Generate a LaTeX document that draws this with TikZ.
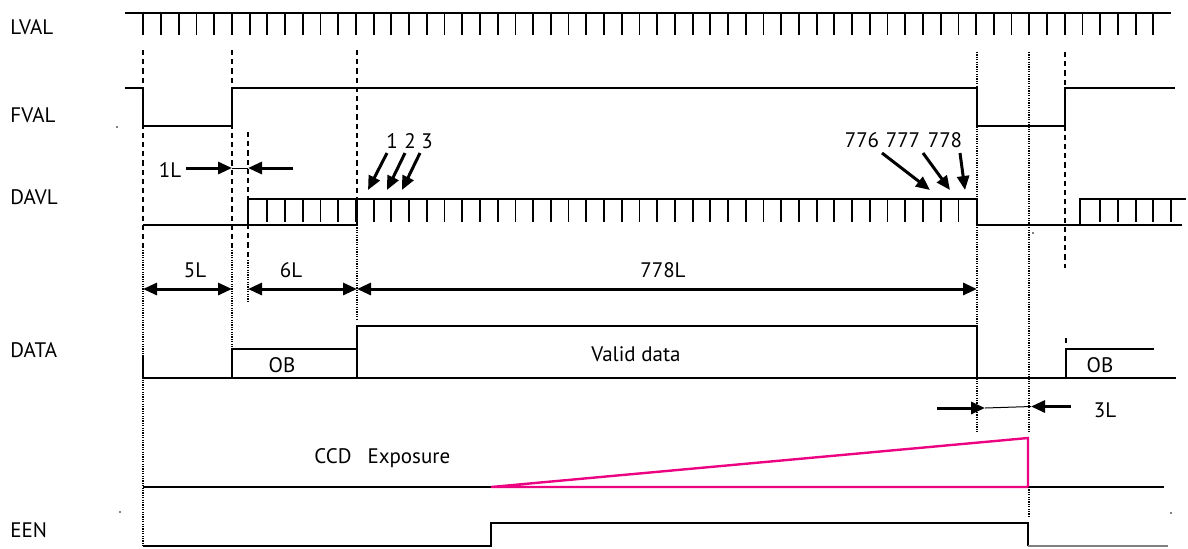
\documentclass[tikz,border=0pt]{standalone}
\usepackage{fontspec}
\setmainfont{PT Sans}
\usetikzlibrary{arrows.meta}

\begin{document}
\begin{tikzpicture}[x=0.5pt,y=-0.5pt,
  every node/.style={font=\fontsize{10.5}{12}\selectfont,inner sep=0pt},
  sig/.style={line width=0.9pt},
  guide/.style={line width=0.6pt,dash pattern=on 0.6pt off 0.6pt},
  cut/.style={line width=1.3pt,dash pattern=on 2.6pt off 2pt},
  dim/.style={line width=1.5pt,{Triangle[length=7pt,width=6pt]}-{Triangle[length=7pt,width=6pt]}},
  ptr/.style={line width=1.5pt,-{Triangle[length=7pt,width=6pt]}},
  expo/.style={line width=1.2pt,draw=magenta!90!red}]
 \useasboundingbox (0,0) rectangle (1188,548);
 % signal names
 \node[anchor=west] (lval) at (10,27) {LVAL};
 \node[anchor=west] (fval) at (10,115) {FVAL};
 \node[anchor=west] (davl) at (10,197) {DAVL};
 \node[anchor=west] (data) at (10,350) {DATA};
 \node[anchor=west] (een) at (10,530) {EEN};
 % LVAL
 \draw[sig] (125,13) -- (1171,13);
 \foreach \i in {0,...,57}
   \draw[sig] ({143.3+17.72*\i},13) -- ++(0,22);
 % FVAL
 \draw[sig] (125,88) -- (143,88) -- (143,126) -- (232,126) -- (232,88) -- (977,88)
   -- (977,126) -- (1065,126) -- (1065,88) -- (1175,88);
 % DAVL
 \draw[sig] (143,225) -- (357,225) -- (357,199);
 \draw[sig] (248,225) -- (248,199) -- (977,199) -- (977,225) -- (1182,225);
 \draw[sig] (1080,225) -- (1080,199) -- (1186,199);
 \foreach \i in {7,...,46,54,55,...,58}
   \draw[sig] ({143.3+17.72*\i},199) -- ++(0,23);
 % DATA
 \draw[sig] (143,355) -- (143,378) -- (1176,378);
 \draw[sig] (232,378) -- (232,349) -- (357,349);
 \draw[sig] (357,378) -- (357,326) -- (977,326) -- (977,378);
 \draw[sig] (1066,378) -- (1066,349) -- (1154,349);
 \node (ob1) at (282,365) {OB};
 \node (valid) at (636,354) {Valid data};
 \node (ob2) at (1100,365) {OB};
 % CCD exposure and EEN
 \draw[sig] (143,487) -- (1164,487);
 \draw[expo] (491,487) -- (1028,438) -- (1028,487) -- cycle;
 \node[anchor=west] (ccd) at (314,458) {CCD\hspace{8pt}Exposure};
 \draw[sig] (143,546) -- (491,546) -- (491,523) -- (1028,523) -- (1028,546);
 \draw[sig,gray] (1028,546) -- (1168,546);
 % guide lines
 \foreach \x/\a/\b in {143/50/250,232/50/250,248/132/260,357/50/225,1065/52/268}
   \draw[cut] (\x,\a) -- (\x,\b);
 \draw[cut] (1066,338) -- (1066,345);
 \foreach \x/\a/\b in {143/250/546,232/250/350,248/260/303,357/225/320,977/52/432,1029/52/432,1029/487/517}
   \draw[guide] (\x,\a) -- (\x,\b);
 % line counts
 \draw[dim] (143,289) -- (232,289);
 \draw[dim] (248,289) -- (357,289);
 \draw[dim] (357,289) -- (977,289);
 \node (l5) at (195,270) {5L};
 \node (l6) at (291,270) {6L};
 \node (l778) at (663,270) {778L};
 % 1L gap
 \node (l1) at (170,170) {1L};
 \coordinate (g0) at (186,168);
 \coordinate (g1) at (232,168);
 \coordinate (g2) at (248,168);
 \coordinate (g3) at (293,168);
 \draw[ptr] (g0) -- (g1);
 \draw[ptr] (g3) -- (g2);
 \draw[line width=0.5pt] (g1) -- (g2);
 % 3L gap
 \node (l3) at (1105,410) {3L};
 \coordinate (h0) at (937,408);
 \coordinate (h1) at (985,408);
 \coordinate (h2) at (1031,406.5);
 \coordinate (h3) at (1071,406.5);
 \draw[ptr] (h0) -- (h1);
 \draw[ptr] (h3) -- (h2);
 \draw[line width=0.5pt] (h1) -- (h2);
 % first and last lines
 \node (n1) at (392,141) {1};
 \node (n2) at (410,141) {2};
 \node (n3) at (427,141) {3};
 \node (n776) at (862,140) {776};
 \node (n777) at (903,140) {777};
 \node (n778) at (945,140) {778};
 \foreach \a/\b/\c/\d in {387/153/368/190,405/153/387/190,420/153/402/190,882/153/930/190,923/153/950/190,960/153/965/190}
   \draw[ptr] (\a,\b) -- (\c,\d);
 % specks
 \foreach \p in {(117,127),(120,512),(1171,513),(1033,233)}
   \fill \p circle (0.8);
\end{tikzpicture}
\end{document}
